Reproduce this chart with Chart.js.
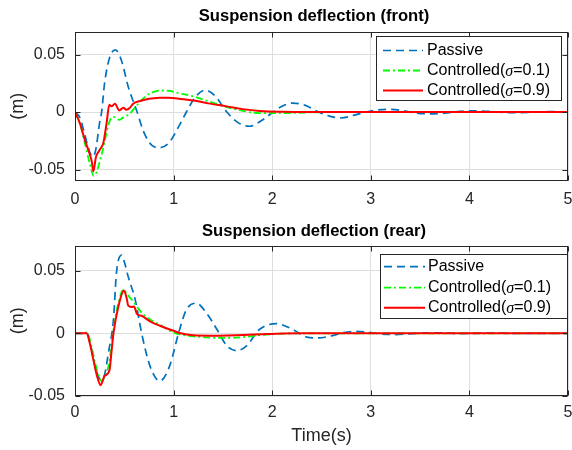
<!DOCTYPE html>
<html><head><meta charset="utf-8">
<script src="https://cdn.jsdelivr.net/npm/chart.js@4/dist/chart.umd.min.js"></script>
<style>
html,body{margin:0;padding:0;background:#fff;}
body{width:572px;height:450px;position:relative;overflow:hidden;}
canvas{position:absolute;left:0;}
#c1{top:0;} #c2{top:214px;}
</style></head><body>
<canvas id="c1" width="572" height="214"></canvas>
<canvas id="c2" width="572" height="236"></canvas>
<script>
// ---------- DATA ----------
const seriesNames = ['Passive', 'Controlled(σ=0.1)', 'Controlled(σ=0.9)'];
const titles = ['Suspension deflection (front)', 'Suspension deflection (rear)'];
const xLabel = 'Time(s)';
const yLabel = '(m)';
const xTicks = [0, 1, 2, 3, 4, 5];
const yTicksFront = [-0.05, 0, 0.05];
const yTicksRear = [-0.05, 0, 0.05];

// Front – Passive
const frontPassiveT = [0,0.05,0.1,0.15,0.18,0.21,0.25,0.27,0.3,0.35,0.41,0.47,0.54,0.63,0.7,0.78,0.86,0.95,1.05,1.13,1.22,1.32,1.42,1.54,1.65,1.77,1.9,2.01,2.1,2.21,2.33,2.47,2.6,2.7,2.82,2.95,3.05,3.16,3.3,3.45,3.6,3.75,3.9,4.05,4.2,4.4,4.6,4.8,5];
const frontPassiveY = [0,-0.005,-0.02,-0.035,-0.039,-0.033,-0.009,0,0.025,0.047,0.054,0.045,0.022,0,-0.018,-0.029,-0.031,-0.027,-0.013,0,0.013,0.019,0.014,0,-0.009,-0.0124,-0.007,0,0.005,0.0078,0.006,0,-0.004,-0.0052,-0.003,0,0.0015,0.0023,0.0015,-0.0008,-0.0016,-0.001,0.0005,0.001,0.0005,-0.0006,-0.0003,0.0003,0];
// Front – Controlled sigma=0.1
const frontCtrl1T = [0,0.05,0.1,0.15,0.19,0.22,0.26,0.29,0.32,0.355,0.39,0.45,0.5,0.55,0.6,0.65,0.72,0.8,0.88,0.96,1.05,1.2,1.35,1.54,1.7,1.875,2.1,2.4,2.7,5];
const frontCtrl1Y = [0,-0.01,-0.027,-0.045,-0.0555,-0.052,-0.04,-0.03,-0.018,-0.007,-0.0043,-0.0068,-0.004,-0.002,0.003,0.008,0.014,0.0175,0.0187,0.0183,0.0165,0.0135,0.0095,0.0043,0.001,-0.001,-0.001,-0.0003,0,0];
// Front – Controlled sigma=0.9
const frontCtrl9T = [0,0.05,0.1,0.152,0.17,0.186,0.213,0.25,0.287,0.32,0.348,0.37,0.405,0.45,0.49,0.52,0.557,0.59,0.66,0.75,0.86,0.95,1.05,1.2,1.35,1.54,1.7,1.875,2.1,2.4,5];
const frontCtrl9Y = [0,-0.01,-0.0244,-0.0374,-0.043,-0.0517,-0.039,-0.033,-0.027,-0.01,0.0063,0.0049,0.0072,0.0014,0.0037,0.002,0.0037,0.0072,0.0095,0.0115,0.0124,0.0125,0.0115,0.01,0.0075,0.0049,0.0025,0.0009,0.0002,0,0];

// Rear – Passive
const rearPassiveT = [0,0.12,0.16,0.2,0.24,0.27,0.3,0.34,0.39,0.42,0.473,0.5,0.54,0.61,0.676,0.76,0.86,0.96,1.05,1.13,1.23,1.335,1.44,1.54,1.64,1.74,1.87,2.04,2.21,2.35,2.47,2.6,2.72,2.84,2.95,3.1,3.25,3.4,3.55,3.7,3.9,4.2,4.5,5];
const rearPassiveY = [0,0,-0.01,-0.025,-0.035,-0.037,-0.033,-0.015,0.011,0.048,0.0624,0.057,0.045,0.027,0,-0.026,-0.038,-0.026,0,0.0188,0.024,0.016,0.003,-0.01,-0.0138,-0.01,0.003,0.0077,0.003,-0.003,-0.0037,-0.002,0.0005,0.0015,0.001,-0.0005,-0.001,-0.0004,0.0003,0.0004,-0.0002,0.0002,-0.0001,0];
// Rear – Controlled sigma=0.1
const rearCtrl1T = [0,0.12,0.15,0.2,0.24,0.27,0.3,0.34,0.37,0.4,0.44,0.49,0.53,0.59,0.64,0.69,0.77,0.86,0.94,1.01,1.1,1.2,1.32,1.44,1.58,1.71,1.82,1.94,2.1,2.3,5];
const rearCtrl1Y = [0,0.0005,-0.005,-0.022,-0.034,-0.038,-0.035,-0.026,-0.01,0.008,0.024,0.0347,0.031,0.0254,0.02,0.0153,0.0105,0.0069,0.003,0.0003,-0.0015,-0.0024,-0.0032,-0.0037,-0.0035,-0.003,-0.002,-0.001,-0.0003,0,0];
// Rear – Controlled sigma=0.9
const rearCtrl9T = [0,0.12,0.15,0.186,0.22,0.26,0.3,0.348,0.37,0.39,0.44,0.497,0.524,0.54,0.574,0.598,0.63,0.676,0.76,0.86,1.0,1.06,1.2,1.37,1.55,1.71,1.9,2.04,2.3,5];
const rearCtrl9Y = [0,0,-0.008,-0.021,-0.033,-0.0413,-0.034,-0.03,-0.015,0,0.0214,0.0341,0.028,0.022,0.021,0.0214,0.0153,0.014,0.0095,0.006,0.002,0.0003,-0.0016,-0.0019,-0.0017,-0.0013,-0.0007,-0.0003,0,0];

// ---------- STYLE ----------
const FONT = "'Liberation Sans', Arial, Helvetica, sans-serif";
const colors = ['#0072BD', '#00FF00', '#FF0000'];
const dashes = [[8,5], [7,3,2,3], []];
const widths = [1.7, 1.8, 2];
const AX = '#262626';

function pts(t, y){ return t.map((v,i)=>({x:v, y:y[i]})); }

function makeDatasets(ts, ys){
  return ts.map((t,i)=>({
    label: seriesNames[i],
    data: pts(t, ys[i]),
    borderColor: colors[i],
    borderDash: dashes[i],
    borderWidth: widths[i],
    pointRadius: 0,
    fill: false,
    cubicInterpolationMode: 'monotone',
    order: 2 - i
  }));
}

const mlPlugin = {
  id: 'ml',
  afterDraw(chart, args, opts){
    const {ctx, chartArea:a, scales} = chart;
    const xs = scales.x, ys = scales.y;
    ctx.save();
    // title
    ctx.fillStyle = '#000';
    ctx.font = 'bold 16.6px ' + FONT;
    ctx.textAlign = 'center';
    ctx.textBaseline = 'middle';
    ctx.fillText(opts.title, opts.titleX, opts.titleY);
    ctx.textAlign = 'left';
    // axes box + inward ticks
    ctx.strokeStyle = AX; ctx.lineWidth = 1; ctx.setLineDash([]);
    const L = Math.round(a.left)+0.5, R = Math.round(a.right)-0.5, T = Math.round(a.top)+0.5, B = Math.round(a.bottom)-0.5;
    ctx.strokeRect(L, T, R-L, B-T);
    ctx.beginPath();
    xTicks.forEach(v=>{
      const p = Math.round(xs.getPixelForValue(v))+0.5;
      ctx.moveTo(p, B); ctx.lineTo(p, B-5);
      ctx.moveTo(p, T); ctx.lineTo(p, T+5);
    });
    opts.yTicks.forEach(v=>{
      const p = Math.round(ys.getPixelForValue(v))+0.5;
      ctx.moveTo(L, p); ctx.lineTo(L+5, p);
      ctx.moveTo(R, p); ctx.lineTo(R-5, p);
    });
    ctx.stroke();
    // legend
    const lg = opts.legend;
    ctx.fillStyle = '#fff';
    ctx.fillRect(lg.x, lg.y, lg.w, lg.h);
    ctx.strokeStyle = AX;
    ctx.strokeRect(lg.x+0.5, lg.y+0.5, lg.w-1, lg.h-1);
    seriesNames.forEach((name,i)=>{
      const cy = lg.rows[i];
      ctx.beginPath();
      ctx.strokeStyle = colors[i]; ctx.lineWidth = widths[i];
      ctx.setLineDash(dashes[i]);
      ctx.moveTo(lg.lx0, cy); ctx.lineTo(lg.lx1, cy); ctx.stroke();
      ctx.setLineDash([]);
      ctx.fillStyle = '#000';
      ctx.textBaseline = 'middle';
      let x = lg.tx;
      const parts = name.split('σ');
      parts.forEach((p,k)=>{
        ctx.font = '16px ' + FONT;
        ctx.fillText(p, x, cy);
        x += ctx.measureText(p).width;
        if (k < parts.length-1){
          ctx.font = 'italic 16px "Liberation Serif", serif';
          ctx.fillText('σ', x, cy+1);
          x += ctx.measureText('σ').width;
        }
      });
    });
    ctx.restore();
  }
};

function makeChart(id, title, titleY, ts, ys, yMin, yMax, yTicks, xHeight, xPad, showXTitle, legend){
  return new Chart(document.getElementById(id), {
    type: 'line',
    data: { datasets: makeDatasets(ts, ys) },
    plugins: [mlPlugin],
    options: {
      responsive: false, animation: false, devicePixelRatio: 1,
      layout: { padding: { left: 0, right: 4, top: 31.5, bottom: 0 } },
      plugins: {
        legend: { display: false }, tooltip: { enabled: false }, title: { display: false },
        ml: { yTicks: yTicks, legend: legend, title: title, titleX: 314, titleY: titleY }
      },
      scales: {
        x: {
          type: 'linear', min: 0, max: 5,
          afterBuildTicks: s => { s.ticks = xTicks.map(v=>({value:v})); },
          afterFit: s => { s.height = xHeight; s.paddingLeft = 0; s.paddingRight = 0; },
          ticks: { color: AX, font: { family: FONT, size: 16 }, padding: xPad, maxRotation: 0,
            callback: v => String(v) },
          grid: { color: '#dedede', lineWidth: 1, drawTicks: false },
          border: { display: false },
          title: { display: showXTitle, text: xLabel, color: AX, font: { family: FONT, size: 18 }, padding: { top: 4, bottom: 3 } }
        },
        y: {
          type: 'linear', min: yMin, max: yMax,
          afterBuildTicks: s => { s.ticks = yTicks.map(v=>({value:v})); },
          afterFit: s => { s.width = 75; s.paddingTop = 0; s.paddingBottom = 0; },
          ticks: { color: AX, font: { family: FONT, size: 16 }, padding: 10,
            callback: v => (Math.abs(v) < 1e-9 ? '0' : v.toFixed(2)) },
          grid: { color: '#dedede', lineWidth: 1, drawTicks: false },
          border: { display: false },
          title: { display: true, text: yLabel, color: AX, font: { family: FONT, size: 18 }, padding: { top: 7, bottom: 0 } }
        }
      }
    }
  });
}

makeChart('c1', titles[0], 16.7,
  [frontPassiveT, frontCtrl1T, frontCtrl9T],
  [frontPassiveY, frontCtrl1Y, frontCtrl9Y],
  -0.06, 0.07, yTicksFront, 33, 9, false,
  { x: 376, y: 36, w: 186, h: 65, rows: [50.5, 70.5, 90.5], lx0: 383, lx1: 423, tx: 427 });

makeChart('c2', titles[1], 17.7,
  [rearPassiveT, rearCtrl1T, rearCtrl9T],
  [rearPassiveY, rearCtrl1Y, rearCtrl9Y],
  -0.05, 0.07, yTicksRear, 54, 7, true,
  { x: 380, y: 40, w: 188, h: 65, rows: [52.7, 73.7, 93.7], lx0: 384, lx1: 425, tx: 428 });
</script>
</body></html>
